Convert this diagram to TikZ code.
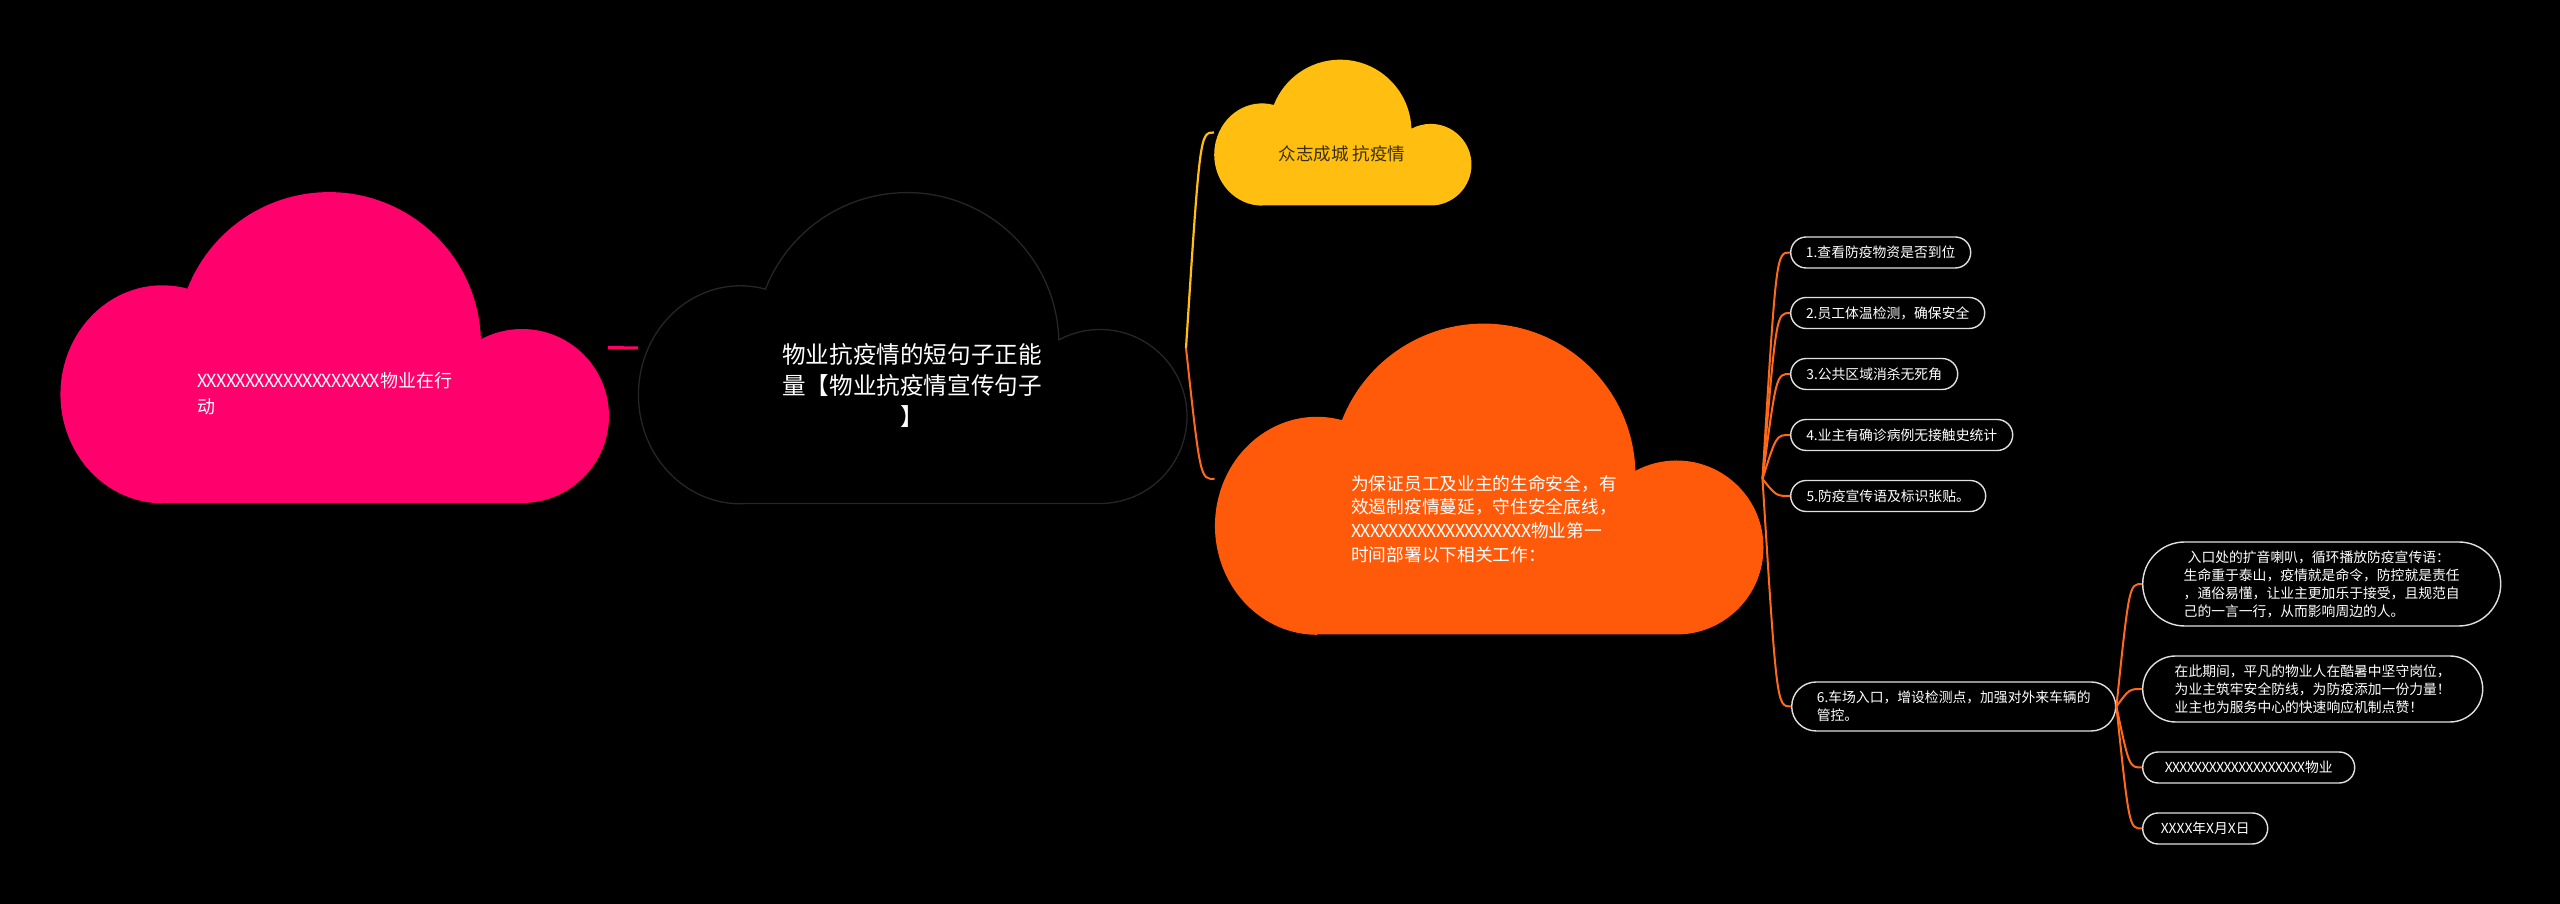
\documentclass[tikz,border=0pt]{standalone}
\usepackage{fontspec}
\newfontfamily\cjk{Noto Sans CJK SC}
\usetikzlibrary{calc,shapes.misc}
\definecolor{cpink}{HTML}{FF006C}
\definecolor{corange}{HTML}{FF5A0A}
\definecolor{cline}{HTML}{FF6A1A}
\definecolor{cyellow}{HTML}{FFBE10}
\definecolor{cdark}{HTML}{3A3008}
\definecolor{cgrey}{HTML}{262626}
\newcommand\link[3]{\draw[#1] let \p1=(#2), \p2=(#3) in (\p1) .. controls ({0.5*\x1+0.5*\x2},\y2) .. (\p2);}
\newcommand\xrun[1]{{\addfontfeature{LetterSpace=-4}#1}}
\begin{document}
\begin{tikzpicture}[x=1pt,y=1pt,
  cloudbox/.style={rectangle, minimum width=548pt, minimum height=311pt, inner sep=0pt, outer sep=0pt},
  cloud/.pic={\path[pic actions] (102pt,0pt) -- (462pt,0pt) arc[start angle=-90, end angle=118.2, radius=87pt] arc[start angle=1.8, end angle=158.6, radius=152pt] arc[start angle=75.8, end angle=270, x radius=102pt, y radius=109pt] -- cycle;},
  pill/.style={rounded rectangle, draw=white!88!black, line width=1.4pt, fill=black, text=white, inner sep=0pt, font=\cjk\fontsize{13.8pt}{18pt}\selectfont, align=left, anchor=west, minimum height=31pt},
  ctxt/.style={inner sep=0pt, text=white},
  yline/.style={draw=cyellow, line width=2.2pt},
  oline/.style={draw=cline, line width=2pt},
  pline/.style={draw=cpink, line width=3pt}]
\useasboundingbox (0,0) rectangle (2560,904);
\fill[black] (0,0) rectangle (2560,904);
% cloud boxes
\node[cloudbox] (pink) at (334,556.5) {};
\node[cloudbox] (center) at (912,556) {};
\node[cloudbox] (orange) at (1488.5,425) {};
\node[cloudbox, minimum width=257pt, minimum height=146pt] (yellow) at (1342.5,771.5) {};
% connectors
\draw[pline] (pink.east) -- (center.west);
\link{yline}{center.east}{yellow.west}
\link{oline}{center.east}{orange.west}
% cloud shapes
\pic[fill=cpink] at (pink.south west) {cloud};
\pic[fill=black, draw=cgrey, line width=1.3pt] at (center.south west) {cloud};
\pic[fill=corange] at (orange.south west) {cloud};
\pic[fill=cyellow, scale=0.469] at (yellow.south west) {cloud};
% cloud texts
\node[ctxt, font=\cjk\fontsize{18pt}{26pt}\selectfont, align=left, anchor=west] (pinktext) at (197,510) {\xrun{XXXXXXXXXXXXXXXXXXX}物业在行\\动};
\node[ctxt, font=\cjk\fontsize{23.6pt}{31pt}\selectfont, align=center] (ctext) at (912,518) {物业抗疫情的短句子正能\\量【物业抗疫情宣传句子\\】};
\node[ctxt, text=cdark, font=\cjk\fontsize{17.5pt}{22pt}\selectfont] (ytext) at (1342,750) {众志成城 抗疫情};
\node[ctxt, font=\cjk\fontsize{17.7pt}{23.8pt}\selectfont, align=left, anchor=west] (otext) at (1351,385) {为保证员工及业主的生命安全，有\\效遏制疫情蔓延，守住安全底线，\\\xrun{XXXXXXXXXXXXXXXXXXX}物业第一\\时间部署以下相关工作：};
% right nodes
\node[pill, minimum width=180pt] (n1) at (1790,651.5) {1.查看防疫物资是否到位};
\node[pill, minimum width=194pt] (n2) at (1790,591) {2.员工体温检测，确保安全};
\node[pill, minimum width=167pt] (n3) at (1790,530) {3.公共区域消杀无死角};
\node[pill, minimum width=222pt] (n4) at (1790,469) {4.业主有确诊病例无接触史统计};
\node[pill, minimum width=195pt] (n5) at (1790,408) {5.防疫宣传语及标识张贴。};
\node[pill, minimum width=324pt, minimum height=49pt] (n6) at (1791,197.5) {6.车场入口，增设检测点，加强对外来车辆的\\管控。};
\node[pill, minimum width=358pt, minimum height=84pt] (ca) at (2142,320) {\hspace{4pt}入口处的扩音喇叭，循环播放防疫宣传语：\\生命重于泰山，疫情就是命令，防控就是责任\\，通俗易懂，让业主更加乐于接受，且规范自\\己的一言一行，从而影响周边的人。};
\node[pill, minimum width=340pt, minimum height=66pt] (cb) at (2142,215) {在此期间，平凡的物业人在酷暑中坚守岗位，\\为业主筑牢安全防线，为防疫添加一份力量！\\业主也为服务中心的快速响应机制点赞！};
\node[pill, minimum width=212pt] (cc) at (2142,136.5) {\xrun{XXXXXXXXXXXXXXXXXXX}物业};
\node[pill, minimum width=125pt] (cd) at (2142,75.5) {XXXX年X月X日};
% fans
\foreach \k in {n1,n2,n3,n4,n5,n6} {\link{oline}{orange.east}{\k.west}}
\foreach \k in {ca,cb,cc,cd} {\link{oline}{n6.east}{\k.west}}
\end{tikzpicture}
\end{document}
